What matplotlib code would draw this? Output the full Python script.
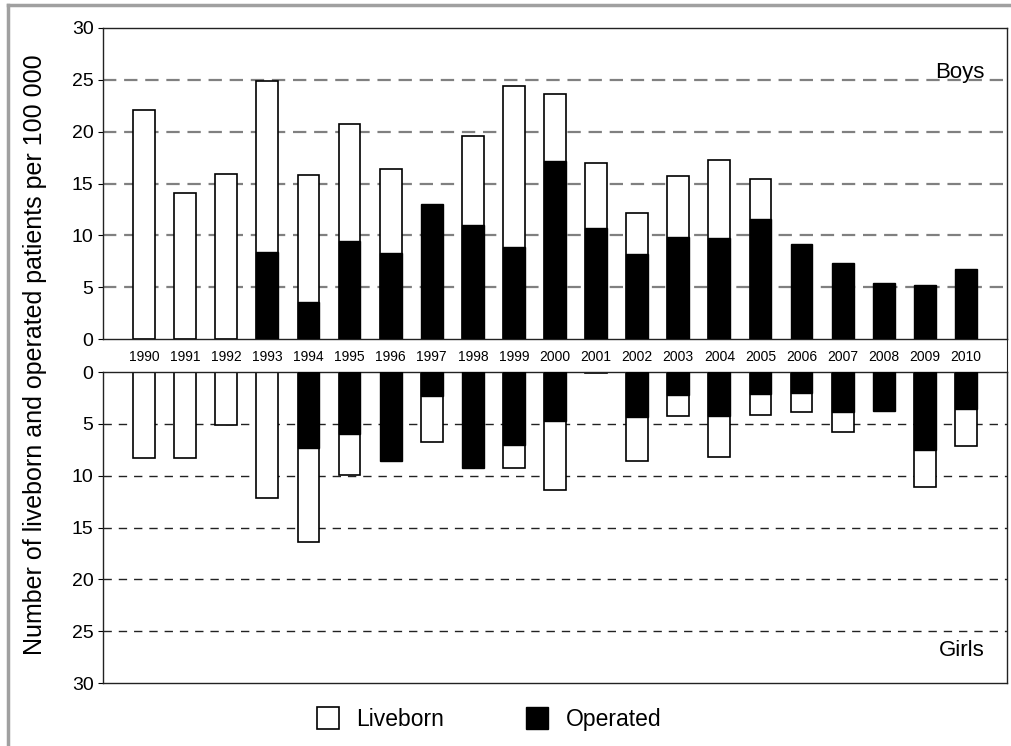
import matplotlib
matplotlib.use('Agg')
import matplotlib.pyplot as plt
from matplotlib.patches import Patch
from matplotlib.lines import Line2D

plt.rcParams['font.family'] = ['Liberation Sans', 'DejaVu Sans']

# Data (per 100 000)
years = [str(y) for y in range(1990, 2011)]
boys_liveborn = [22.1, 14.1, 15.9, 24.9, 15.8, 20.7, 16.4, 0, 19.6, 24.4, 23.6,
                 17.0, 12.2, 15.7, 17.3, 15.4, 0, 0, 0, 0, 0]
boys_operated = [0, 0, 0, 8.4, 3.6, 9.5, 8.3, 13.0, 11.0, 8.9, 17.2,
                 10.7, 8.2, 9.8, 9.7, 11.6, 9.2, 7.3, 5.4, 5.2, 6.8]
girls_liveborn = [8.3, 8.3, 5.1, 12.2, 16.4, 9.9, 0, 6.8, 0, 9.3, 11.4,
                  0.1, 8.6, 4.2, 8.2, 4.1, 3.9, 5.8, 0, 11.1, 7.1]
girls_operated = [0, 0, 0, 0, 7.3, 6.0, 8.6, 2.3, 9.3, 7.0, 4.7,
                  0, 4.3, 2.2, 4.2, 2.1, 2.0, 3.9, 3.8, 7.5, 3.6]

x = list(range(1, len(years) + 1))
W, H = 1012, 746
fig = plt.figure(figsize=(W / 100, H / 100), dpi=100)

def px_axes(left, top, right, bottom):
    return fig.add_axes([left / W, 1 - bottom / H, (right - left) / W, (bottom - top) / H])

ax_top = px_axes(103, 28, 1007, 339)
ax_band = px_axes(103, 339, 1007, 372)
ax_bot = px_axes(103, 372, 1007, 683)

def draw_panel(ax, liveborn, operated, grid_color, grid_lw, dashes):
    for v in range(5, 30, 5):
        ax.axhline(v, color=grid_color, lw=grid_lw, dashes=dashes, zorder=0.5)
    lb_x = [xi for xi, v in zip(x, liveborn) if v > 0]
    lb_v = [v for v in liveborn if v > 0]
    ax.bar(lb_x, lb_v, width=0.53, color='white', edgecolor='black', linewidth=1.2, zorder=2)
    op_x = [xi for xi, v in zip(x, operated) if v > 0]
    op_v = [v for v in operated if v > 0]
    ax.bar(op_x, op_v, width=0.53, color='black', edgecolor='black', linewidth=1.0, zorder=3)
    ax.set_xlim(0, 22)
    ax.set_yticks(range(0, 31, 5))
    ax.tick_params(axis='y', labelsize=14, length=3.8, width=0.8, pad=3)
    ax.tick_params(axis='x', length=0)
    for s in ax.spines.values():
        s.set_linewidth(1.0)
        s.set_color('#222222')

draw_panel(ax_top, boys_liveborn, boys_operated, '#808080', 1.6, (6, 3.5))
ax_top.set_ylim(0, 30)
ax_top.set_xticks(x)
ax_top.set_xticklabels(years, fontsize=10)
ax_top.tick_params(axis='x', pad=8)
ax_top.text(21.45, 25.15, 'Boys', ha='right', va='baseline', fontsize=16)

draw_panel(ax_bot, girls_liveborn, girls_operated, '#222222', 1.0, (6, 5))
ax_bot.set_ylim(30, 0)
ax_bot.set_xticks([])
ax_bot.text(21.45, 27.4, 'Girls', ha='right', va='baseline', fontsize=16)

# band between the panels: only the right edge line
ax_band.set_xticks([])
ax_band.set_yticks([])
ax_band.patch.set_alpha(0)
for side in ['left', 'top', 'bottom']:
    ax_band.spines[side].set_visible(False)
ax_band.spines['right'].set_color('#222222')

fig.text(35 / W, 1 - 355 / H, 'Number of liveborn and operated patients per 100 000',
         rotation=90, ha='center', va='center', fontsize=18)

handles = [Patch(facecolor='white', edgecolor='black', linewidth=1.2, label='Liveborn'),
           Patch(facecolor='black', edgecolor='black', label='Operated')]
fig.legend(handles=handles, loc='center', bbox_to_anchor=(489 / W, 27 / H), ncol=2,
           frameon=False, fontsize=16.5, handlelength=0.96, handleheight=1.05,
           handletextpad=0.75, columnspacing=3.6)

# grey frame around the figure (top and left edges)
fig.add_artist(Line2D([8 / W, 8 / W], [0, 1 - 5 / H], color='#a0a0a0', lw=2.5))
fig.add_artist(Line2D([8 / W, 1], [1 - 5 / H, 1 - 5 / H], color='#a0a0a0', lw=2.5))

fig.savefig('out.png', dpi=100)
